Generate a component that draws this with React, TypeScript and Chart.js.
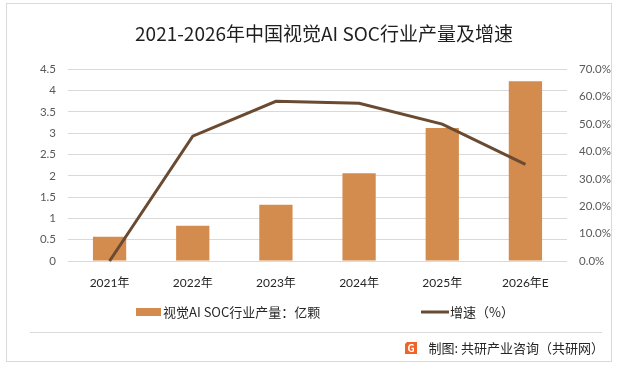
import React, { useEffect, useRef } from "react";
import { Chart, registerables } from "chart.js";

Chart.register(...registerables);

const titleText = "2021-2026年中国视觉AI SOC行业产量及增速";
const categories = ["2021年", "2022年", "2023年", "2024年", "2025年", "2026年E"];
const outputValues = [0.57, 0.83, 1.32, 2.06, 3.12, 4.22];
const growthValues = [0, 45.6, 58.3, 57.6, 50.0, 35.3];
const barLabel = "视觉AI SOC行业产量：亿颗";
const lineLabel = "增速（%）";
const footerText = "制图: 共研产业咨询（共研网）";

const BAR_COLOR = "#D38B4E";
const LINE_COLOR = "#6A4A30";
const GRID_COLOR = "#D9D9D9";
const CJK = "'Noto Sans CJK SC', 'Noto Sans', sans-serif";
const NUM = "Lato, 'Noto Sans CJK SC', sans-serif";

const decorPlugin = {
  id: "decor",
  afterDraw(chart: any) {
    const ctx = chart.ctx as CanvasRenderingContext2D;
    ctx.save();
    // outer border
    ctx.strokeStyle = GRID_COLOR;
    ctx.lineWidth = 1;
    ctx.strokeRect(6.5, 3.5, 605, 358);
    // title
    ctx.fillStyle = "#1f1f1f";
    ctx.font = `19px ${CJK}`;
    ctx.textAlign = "center";
    ctx.textBaseline = "middle";
    ctx.fillText(titleText, 324, 34);
    // legend
    const ly = 312;
    ctx.fillStyle = BAR_COLOR;
    ctx.fillRect(136, ly - 4, 25, 8);
    ctx.font = `13px ${CJK}`;
    ctx.fillStyle = "#262626";
    ctx.textBaseline = "middle";
    ctx.textAlign = "left";
    ctx.fillText(barLabel, 163, ly);
    ctx.strokeStyle = LINE_COLOR;
    ctx.lineWidth = 3;
    ctx.beginPath();
    ctx.moveTo(421, ly);
    ctx.lineTo(449, ly);
    ctx.stroke();
    ctx.fillText(lineLabel, 450, ly);
    // separator
    ctx.strokeStyle = GRID_COLOR;
    ctx.lineWidth = 1;
    ctx.beginPath();
    ctx.moveTo(30, 332.5);
    ctx.lineTo(602, 332.5);
    ctx.stroke();
    // footer logo
    ctx.fillStyle = "#F0642A";
    ctx.beginPath();
    ctx.moveTo(407, 342);
    ctx.lineTo(417, 342);
    ctx.lineTo(417, 354);
    ctx.lineTo(405, 354);
    ctx.lineTo(405, 344);
    ctx.closePath();
    ctx.fill();
    ctx.fillStyle = "#fff";
    ctx.font = `bold 10px ${CJK}`;
    ctx.textAlign = "center";
    ctx.fillText("G", 411, 348.5);
    // footer text
    ctx.fillStyle = "#262626";
    ctx.font = `13px ${CJK}`;
    ctx.textAlign = "right";
    ctx.fillText(footerText, 604, 348);
    ctx.restore();
  },
};

export default function App() {
  const ref = useRef<HTMLCanvasElement | null>(null);

  useEffect(() => {
    if (!ref.current) return;
    const chart = new Chart(ref.current, {
      type: "bar",
      data: {
        labels: categories,
        datasets: [
          {
            type: "line",
            label: lineLabel,
            data: growthValues,
            yAxisID: "y1",
            borderColor: LINE_COLOR,
            backgroundColor: LINE_COLOR,
            borderWidth: 3,
            pointRadius: 0,
            tension: 0,
            clip: false as any,
            order: 0,
          },
          {
            type: "bar",
            label: barLabel,
            data: outputValues,
            yAxisID: "y",
            backgroundColor: BAR_COLOR,
            borderWidth: 0,
            barPercentage: 1,
            categoryPercentage: 0.4,
            order: 1,
          },
        ],
      },
      options: {
        animation: false,
        responsive: true,
        maintainAspectRatio: false,
        layout: { padding: { top: 69.3, left: 0, right: 0, bottom: 0 } },
        plugins: {
          legend: { display: false },
          tooltip: { enabled: false },
          title: { display: false },
        },
        scales: {
          x: {
            grid: { display: false, drawTicks: false },
            border: { display: false },
            ticks: {
              color: "#262626",
              font: { family: NUM, size: 12 },
              padding: 15,
              maxRotation: 0,
            },
            afterFit(scale: any) {
              scale.height = 104;
            },
          },
          y: {
            position: "left",
            min: 0,
            max: 4.5,
            grid: { color: GRID_COLOR, lineWidth: 1, drawTicks: false },
            border: { display: false },
            ticks: {
              stepSize: 0.5,
              color: "#595959",
              font: { family: NUM, size: 11.5 },
              padding: 12,
              callback: (v: any) => String(v),
            },
            afterFit(scale: any) {
              scale.width = 68;
            },
          },
          y1: {
            position: "right",
            min: 0,
            max: 70,
            grid: { display: false, drawTicks: false },
            border: { display: false },
            ticks: {
              stepSize: 10,
              color: "#595959",
              font: { family: NUM, size: 11.5 },
              padding: 12,
              callback: (v: any) => Number(v).toFixed(1) + "%",
            },
            afterFit(scale: any) {
              scale.width = 51;
            },
          },
        },
      },
      plugins: [decorPlugin],
    });
    return () => chart.destroy();
  }, []);

  return (
    <div
      style={{
        position: "absolute",
        left: 0,
        top: 0,
        width: 618,
        height: 365,
        background: "#fff",
      }}
    >
      <canvas ref={ref} />
    </div>
  );
}
